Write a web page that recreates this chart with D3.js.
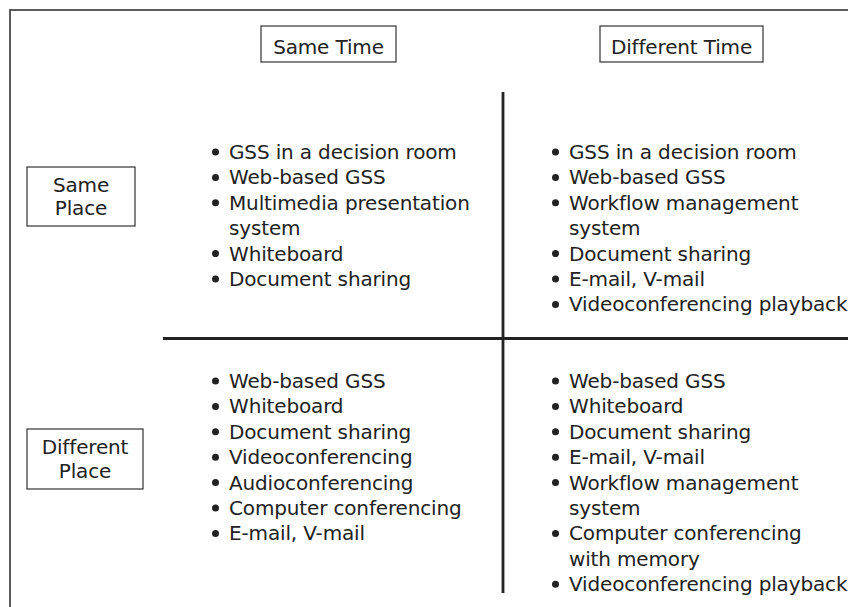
<!DOCTYPE html>
<html>
<head>
<meta charset="utf-8">
<script src="https://cdn.jsdelivr.net/npm/d3@7"></script>
<style>
  html, body { margin: 0; padding: 0; background: #fff; }
  svg { display: block; }
  text { font-family: "DejaVu Sans", sans-serif; fill: #222; }
</style>
</head>
<body>
<svg id="chart" width="848" height="607"></svg>
<script>
// ---- data ----
const columns = ["Same Time", "Different Time"];
const rows = ["Same|Place", "Different|Place"];
// items: "|" marks a wrapped continuation line
const sameTimeSamePlace = [
  "GSS in a decision room",
  "Web-based GSS",
  "Multimedia presentation|system",
  "Whiteboard",
  "Document sharing"
];
const diffTimeSamePlace = [
  "GSS in a decision room",
  "Web-based GSS",
  "Workflow management|system",
  "Document sharing",
  "E-mail, V-mail",
  "Videoconferencing playback"
];
const sameTimeDiffPlace = [
  "Web-based GSS",
  "Whiteboard",
  "Document sharing",
  "Videoconferencing",
  "Audioconferencing",
  "Computer conferencing",
  "E-mail, V-mail"
];
const diffTimeDiffPlace = [
  "Web-based GSS",
  "Whiteboard",
  "Document sharing",
  "E-mail, V-mail",
  "Workflow management|system",
  "Computer conferencing|with memory",
  "Videoconferencing playback"
];

const quadrants = [
  { col: "Same Time", row: "Same|Place", items: sameTimeSamePlace },
  { col: "Different Time", row: "Same|Place", items: diffTimeSamePlace },
  { col: "Same Time", row: "Different|Place", items: sameTimeDiffPlace },
  { col: "Different Time", row: "Different|Place", items: diffTimeDiffPlace }
];

// ---- layout ----
const svg = d3.select("#chart");
const fontSize = 20, letterSp = -0.15, lineH = 25.4;

// scales
const colHeaderX = d3.scaleOrdinal().domain(columns).range([328.5, 681.5]);
const colHeaderW = d3.scaleOrdinal().domain(columns).range([135, 163]);
const listX = d3.scaleOrdinal().domain(columns).range([215.5, 555.5]);
const rowFirstBaseline = d3.scaleOrdinal().domain(rows).range([159, 388]);
const rowBoxY = d3.scaleOrdinal().domain(rows).range([167, 429]);
const rowBoxH = d3.scaleOrdinal().domain(rows).range([59, 60]);
const rowBoxW = d3.scaleOrdinal().domain(rows).range([108, 116]);
const lineY = d3.scaleLinear().domain([0, 1]).range([0, lineH]);

// outer frame (extends beyond canvas right/bottom)
svg.append("rect")
  .attr("x", 10).attr("y", 10).attr("width", 900).attr("height", 700)
  .attr("fill", "none").attr("stroke", "#333").attr("stroke-width", 1.6);

// dividing lines
svg.append("line")
  .attr("x1", 503).attr("x2", 503).attr("y1", 92).attr("y2", 593)
  .attr("stroke", "#222").attr("stroke-width", 2.8);
svg.append("line")
  .attr("x1", 163).attr("x2", 850).attr("y1", 338.5).attr("y2", 338.5)
  .attr("stroke", "#222").attr("stroke-width", 2.8);

// column headers
const ch = svg.selectAll("g.colh").data(columns).join("g").attr("class", "colh");
ch.append("rect")
  .attr("x", d => colHeaderX(d) - colHeaderW(d) / 2)
  .attr("y", 26).attr("width", d => colHeaderW(d)).attr("height", 36)
  .attr("fill", "#fff").attr("stroke", "#333").attr("stroke-width", 1.2);
ch.append("text")
  .attr("x", d => colHeaderX(d)).attr("y", 54)
  .attr("text-anchor", "middle")
  .attr("font-size", fontSize).attr("letter-spacing", letterSp)
  .text(d => d);

// row headers
const rh = svg.selectAll("g.rowh").data(rows).join("g").attr("class", "rowh");
rh.append("rect")
  .attr("x", 27).attr("y", d => rowBoxY(d))
  .attr("width", d => rowBoxW(d)).attr("height", d => rowBoxH(d))
  .attr("fill", "#fff").attr("stroke", "#333").attr("stroke-width", 1.2);
rh.each(function(d) {
  const parts = d.split("|");
  const g = d3.select(this);
  const cx = 27 + rowBoxW(d) / 2;
  const cy = rowBoxY(d) + rowBoxH(d) / 2;
  parts.forEach((p, i) => {
    g.append("text")
      .attr("x", cx)
      .attr("y", cy + 7 + (i - (parts.length - 1) / 2) * 23.5)
      .attr("text-anchor", "middle")
      .attr("font-size", fontSize).attr("letter-spacing", letterSp)
      .text(p);
  });
});

// quadrant lists
quadrants.forEach(q => {
  const g = svg.append("g");
  let line = 0;
  const bx = listX(q.col);
  const y0 = rowFirstBaseline(q.row);
  q.items.forEach(item => {
    const parts = item.split("|");
    parts.forEach((p, i) => {
      const y = y0 + lineY(line);
      if (i === 0) {
        g.append("circle").attr("cx", bx).attr("cy", y - 7).attr("r", 3.5).attr("fill", "#222");
      }
      g.append("text")
        .attr("x", bx + 13.5).attr("y", y)
        .attr("font-size", fontSize).attr("letter-spacing", letterSp)
        .text(p);
      line++;
    });
  });
});
</script>
</body>
</html>
